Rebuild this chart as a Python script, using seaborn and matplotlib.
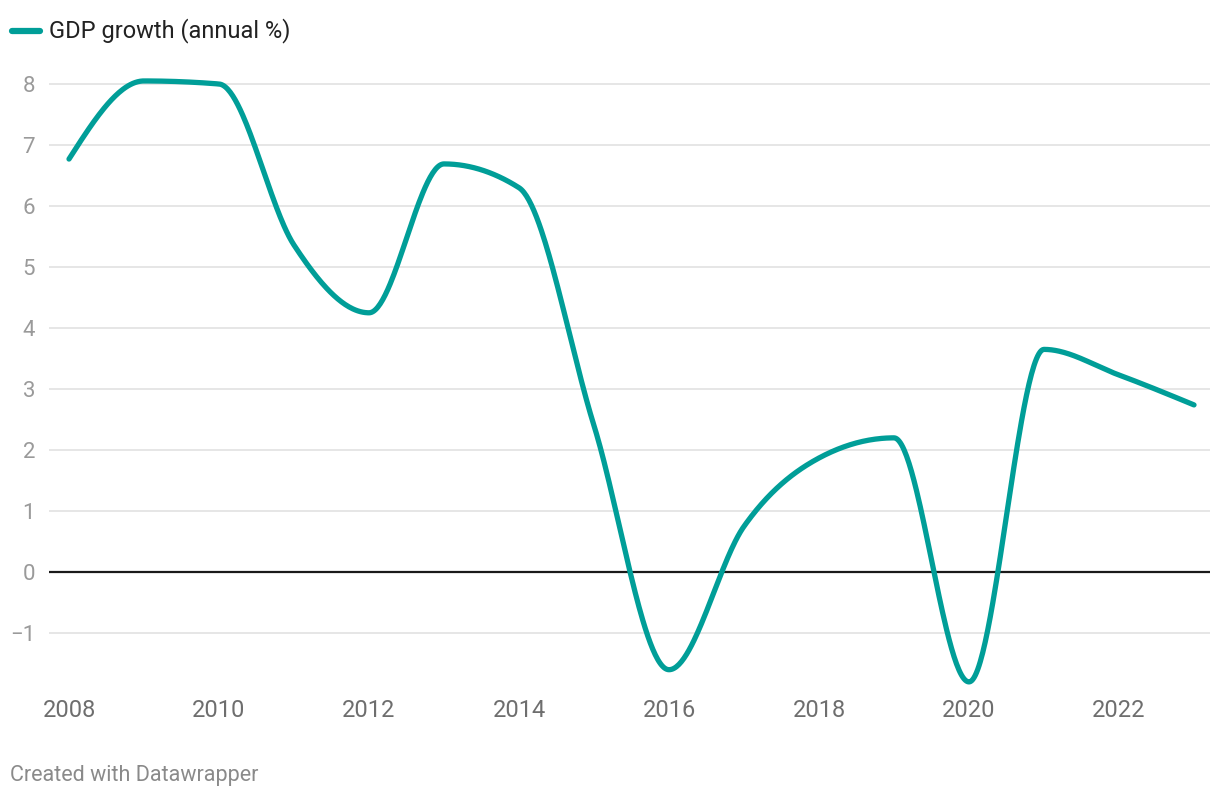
import numpy as np
import pandas as pd
import seaborn as sns
import matplotlib.pyplot as plt

# DATA
years = [2008, 2009, 2010, 2011, 2012, 2013, 2014, 2015,
         2016, 2017, 2018, 2019, 2020, 2021, 2022, 2023]
gdp_growth = [6.77, 8.05, 8.0, 5.36, 4.25, 6.69, 6.3, 2.4,
              -1.6, 0.75, 1.87, 2.2, -1.8, 3.65, 3.23, 2.74]
series_name = "GDP growth (annual %)"
y_ticks = [-1, 0, 1, 2, 3, 4, 5, 6, 7, 8]
x_ticks = [2008, 2010, 2012, 2014, 2016, 2018, 2020, 2022]

LINE = "#009e98"


# monotone-x curve (same shape as d3 curveMonotoneX used by datawrapper)
def monotone_x(xs, ys, n=60):
    xs = np.asarray(xs, float)
    ys = np.asarray(ys, float)
    h = np.diff(xs)
    s = np.diff(ys) / h
    t = np.zeros_like(xs)
    for i in range(1, len(xs) - 1):
        p = (s[i - 1] * h[i] + s[i] * h[i - 1]) / (h[i - 1] + h[i])
        t[i] = (np.sign(s[i - 1]) + np.sign(s[i])) * min(abs(s[i - 1]), abs(s[i]), 0.5 * abs(p))
    t[0] = (3 * s[0] - t[1]) / 2
    t[-1] = (3 * s[-1] - t[-2]) / 2
    out_x, out_y = [], []
    for i in range(len(xs) - 1):
        u = np.linspace(0, 1, n, endpoint=(i == len(xs) - 2))
        h00 = 2 * u**3 - 3 * u**2 + 1
        h10 = u**3 - 2 * u**2 + u
        h01 = -2 * u**3 + 3 * u**2
        h11 = u**3 - u**2
        out_x.append(xs[i] + u * h[i])
        out_y.append(h00 * ys[i] + h10 * h[i] * t[i] + h01 * ys[i + 1] + h11 * h[i] * t[i + 1])
    return np.concatenate(out_x), np.concatenate(out_y)


cx, cy = monotone_x(years, gdp_growth)
df = pd.DataFrame({"year": cx, "value": cy})

sns.set_theme(style="white")
plt.rcParams["font.family"] = ["Roboto", "DejaVu Sans"]

fig = plt.figure(figsize=(12.2, 7.98), dpi=100)
ax = fig.add_axes([49 / 1220, 1 - 688 / 798, (1210 - 49) / 1220, (688 - 71.8) / 798])

# grid
for v in y_ticks:
    if v == 0:
        ax.axhline(0, color="#1a1a1a", lw=1.6, zorder=2)
    else:
        ax.axhline(v, color="#e2e2e2", lw=1.2, zorder=1)

sns.lineplot(data=df, x="year", y="value", color=LINE, lw=3.8, ax=ax,
             zorder=3, solid_capstyle="round", solid_joinstyle="round")

ax.set_xlim(2008 - 20 / 75, 2023 + 16 / 75)
ax.set_ylim(-1.9, 8.2)
ax.set_xlabel("")
ax.set_ylabel("")
sns.despine(ax=ax, left=True, bottom=True)
ax.grid(False)

ax.set_yticks(y_ticks)
ax.set_yticklabels([("\u2212" + str(-v)) if v < 0 else str(v) for v in y_ticks])
ax.set_xticks(x_ticks)
ax.set_xticklabels([str(v) for v in x_ticks])
ax.tick_params(axis="y", length=0, pad=10, labelsize=16, labelcolor="#9a9a9a")
ax.tick_params(axis="x", length=0, pad=8, labelsize=17, labelcolor="#6e6e6e")

# legend
fig.lines.append(plt.Line2D([12 / 1220, 40 / 1220], [1 - 31 / 798] * 2, color=LINE, lw=4.5,
                            solid_capstyle="round", transform=fig.transFigure))
fig.text(49 / 1220, 1 - 31 / 798, series_name, fontsize=17, color="#222222", va="center", ha="left")

# footer
fig.text(10 / 1220, 1 - 775 / 798, "Created with Datawrapper", fontsize=15.5, color="#8a8a8a",
         va="center", ha="left")

fig.savefig("out.png", dpi=100, facecolor="white")
